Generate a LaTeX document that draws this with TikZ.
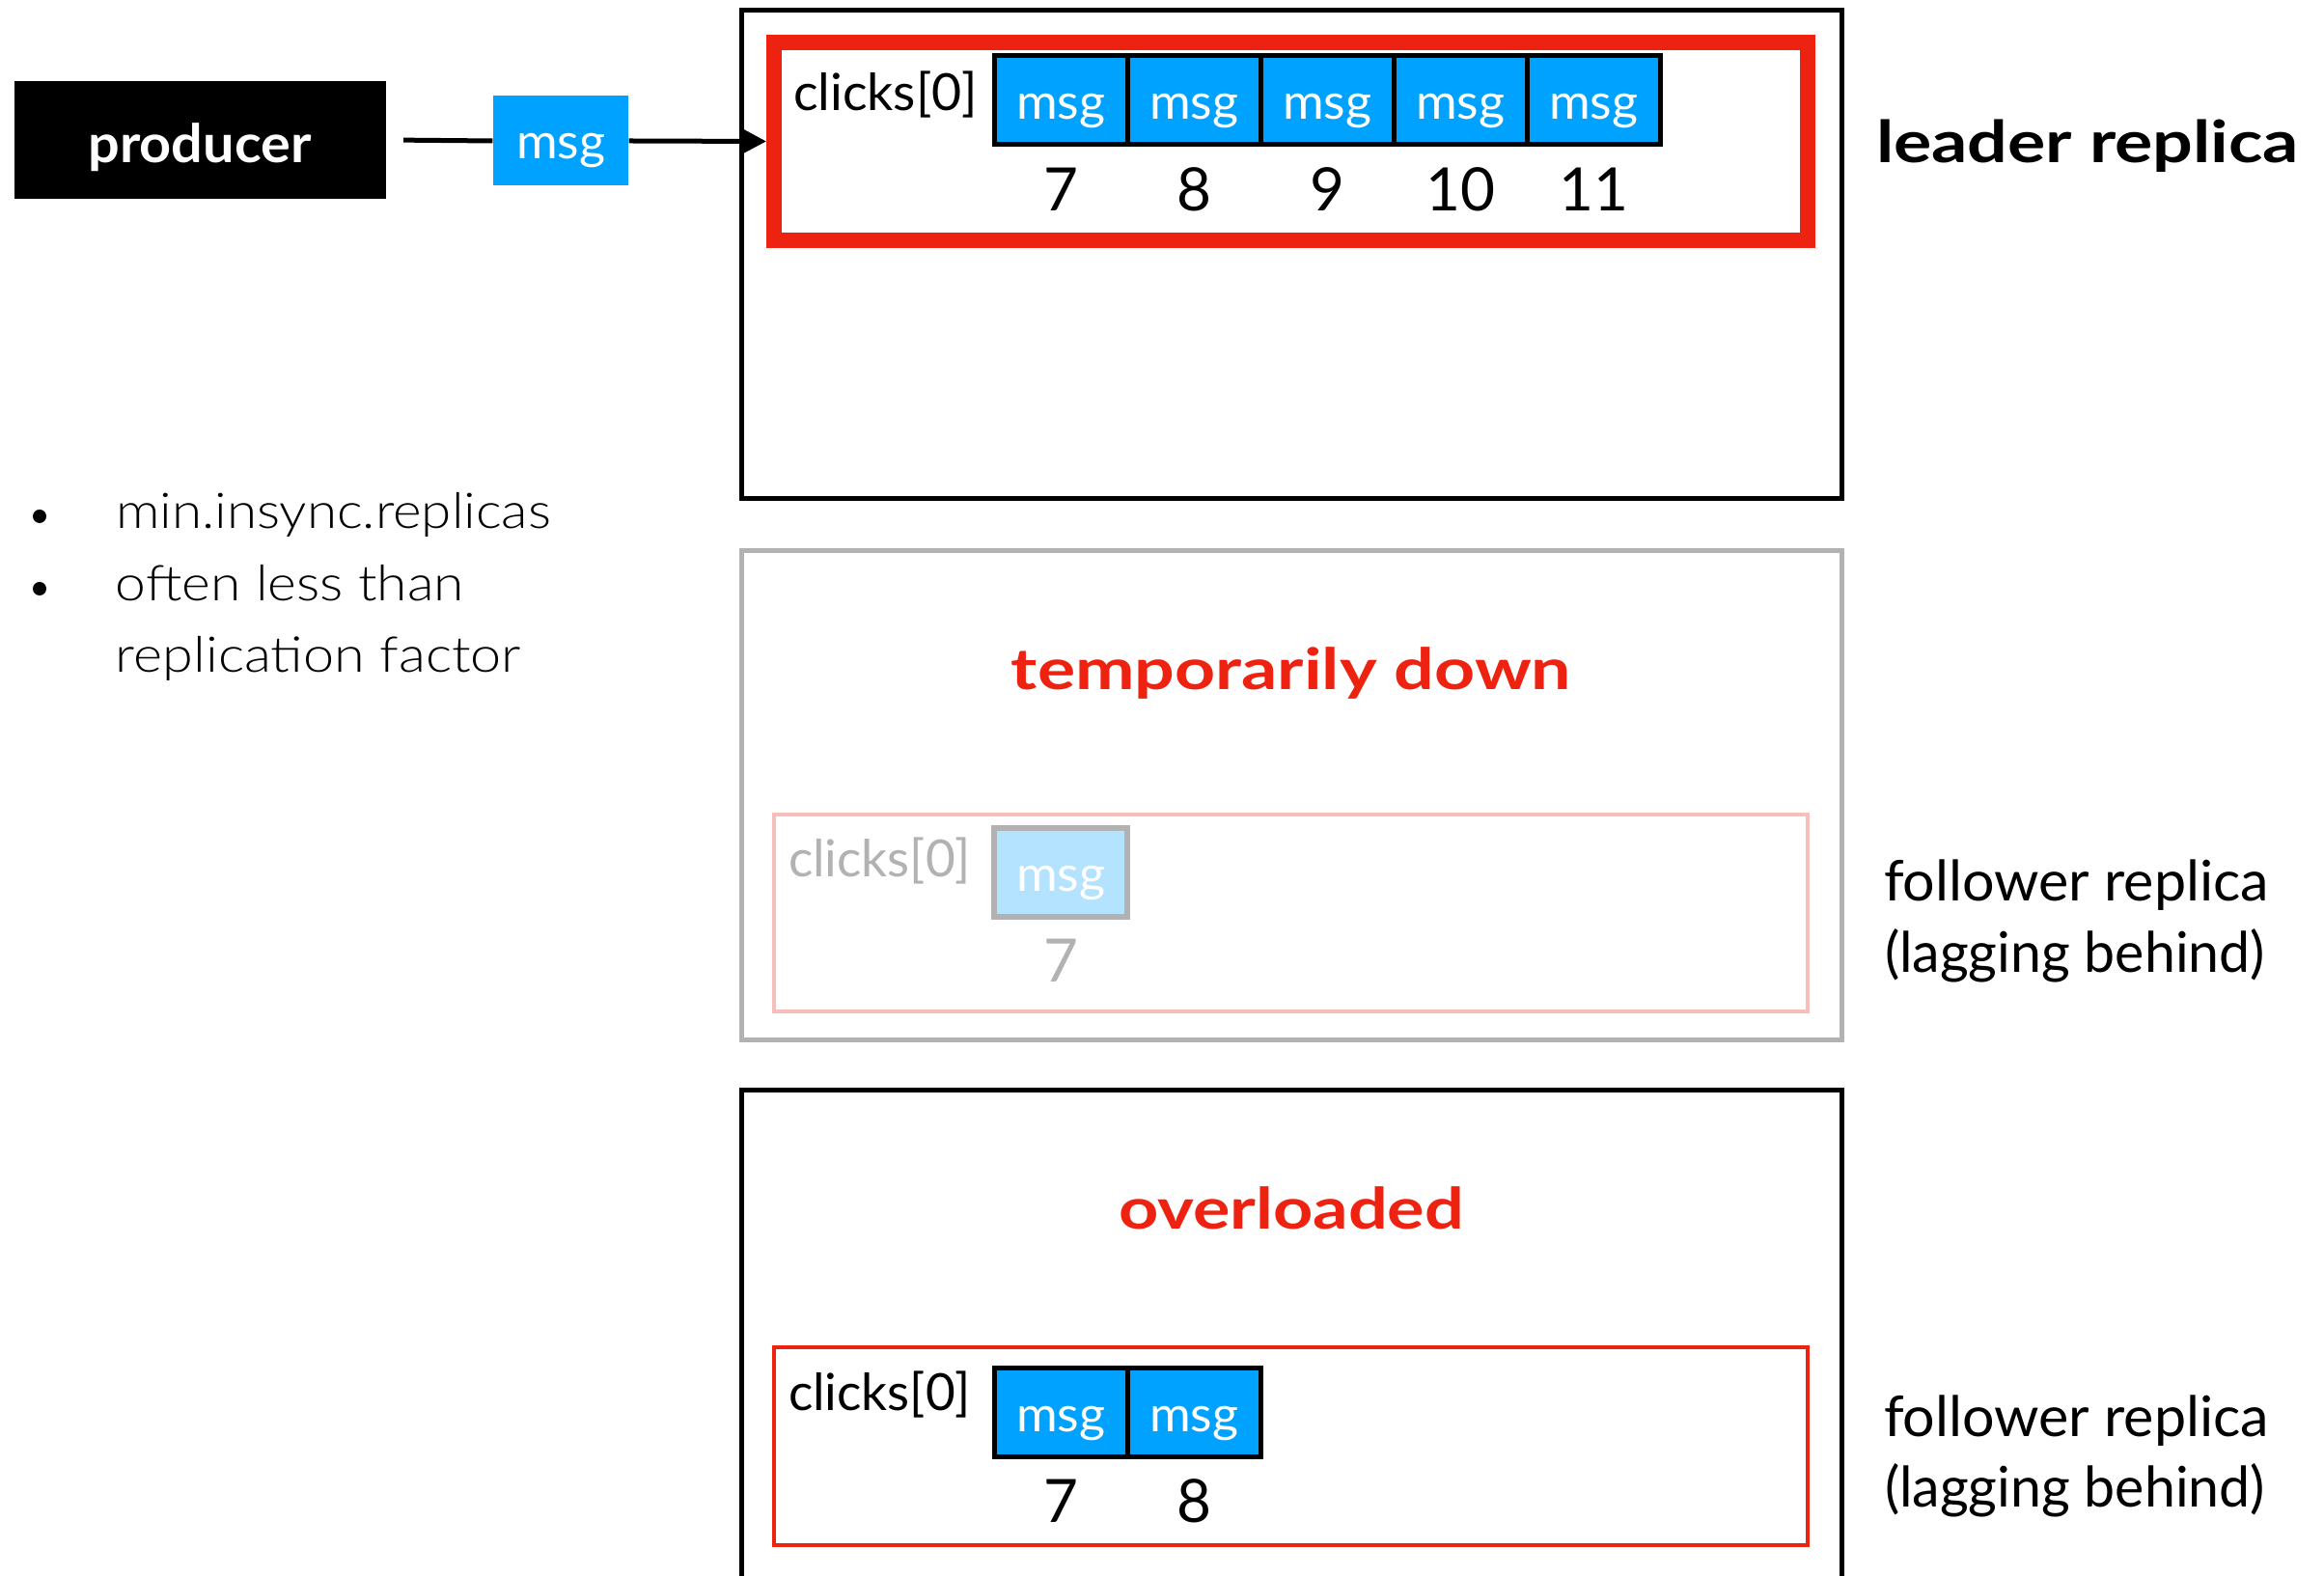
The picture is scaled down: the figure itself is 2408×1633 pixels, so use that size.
\documentclass[tikz,border=0pt]{standalone}
\usepackage{fontspec}
\usepackage{graphicx}
\setmainfont{Lato}
\newfontfamily\lightfont{Lato Light}
\usetikzlibrary{arrows.meta}
\newlength\px \setlength\px{0.3pt}
\newcommand\fsz[1]{\fontsize{#1\px}{#1\px}\selectfont}
\newcommand\fitw[2]{\resizebox{#1\px}{\height}{#2}}
\newcommand\lowered[2]{\raisebox{-#1\px}[0pt][0pt]{#2}}
\definecolor{kblue}{RGB}{0,162,255}
\definecolor{kred}{RGB}{238,34,17}
\definecolor{klight}{RGB}{179,227,255}
\definecolor{kgray}{RGB}{178,178,178}
\definecolor{kpink}{RGB}{248,190,185}
\begin{document}
\begin{tikzpicture}[x=0.3pt,y=-0.3pt,
  txt/.style={inner sep=0pt,outer sep=0pt},
  cellbox/.style={draw=black,line width=1.5pt,fill=kblue,minimum width=41.4pt,minimum height=27.6pt,inner sep=0pt,text=white,font=\fsz{51}},
  ghostcell/.style={cellbox,draw=kgray,line width=1.8pt,fill=klight},
  num/.style={txt,anchor=base,font=\fsz{62}},
  clk/.style={txt,anchor=base west,font=\fsz{53}},
  side/.style={txt,anchor=base west,font=\fsz{58}},
  title/.style={txt,anchor=base,font=\fsz{59}\bfseries,text=kred},
  bul/.style={txt,anchor=base west,font=\lightfont\fsz{51}},
  dot/.style={circle,fill=black,inner sep=0pt,minimum size=4.2pt}
]
\useasboundingbox (0,0) rectangle (2408,1633);
\fill[white] (0,0) rectangle (2408,1633);

% producer and message
\node[fill=black,minimum width=115.5pt,minimum height=36.6pt,inner sep=0pt,text=white,font=\fsz{55}\bfseries] (producer) at (207,145) {\lowered{24}{\fitw{231}{producer}}};
\node[fill=kblue,minimum width=42pt,minimum height=27.9pt,inner sep=0pt,text=white,font=\fsz{51}] (msg) at (581,146) {\lowered{19}{\fitw{92}{msg}}};

% leader replica
\draw[line width=1.5pt] (768,11) rectangle (1908,517);
\node[draw=kred,line width=4.8pt,minimum width=321.3pt,minimum height=61.5pt,inner sep=0pt] (leaderlog) at (1337.5,146.5) {};
\draw[line width=1.5pt,shorten <=5.4pt] (producer.east) -- (msg.west);
\draw[line width=1.5pt,-{Triangle[length=7.2pt,width=7.2pt]}] (msg.east) -- (leaderlog.west);
\node[clk] (clk1) at (822,115) {\fitw{191}{clicks[0]}};
\foreach \i/\n in {0/7,1/8,2/9,3/10,4/11}{
  \node[cellbox] (lc\n) at ({1099+138*\i},104) {\lowered{20}{\fitw{92}{msg}}};
  \node[num] (ln\n) at ({1099+138*\i},219) {\n};
}
\node[txt,anchor=base west,font=\fsz{60}\bfseries] (leaderlbl) at (1944,169) {\fitw{438}{leader replica}};

% temporarily down follower
\draw[kgray,line width=1.5pt] (768,571) rectangle (1908,1078);
\node[title] (downlbl) at (1338,715) {\fitw{580}{temporarily down}};
\draw[kpink,line width=1.4pt] (802,844) rectangle (1873,1048);
\node[clk,text=kgray] (clk2) at (817,909) {\fitw{189}{clicks[0]}};
\node[ghostcell] (dc7) at (1099,904) {\lowered{20}{\fitw{92}{msg}}};
\node[num,text=kgray] (dn7) at (1099,1018) {7};
\node[side] (f1a) at (1952,934) {\fitw{399}{follower replica}};
\node[side] (f1b) at (1953,1008) {\fitw{394}{(lagging behind)}};

% overloaded follower
\draw[line width=1.5pt] (768,1800) -- (768,1130) -- (1908,1130) -- (1908,1800);
\node[title] (overlbl) at (1338,1274) {\fitw{358}{overloaded}};
\draw[kred,line width=1.4pt] (802,1396) rectangle (1873,1601);
\node[clk] (clk3) at (817,1462) {\fitw{189}{clicks[0]}};
\foreach \i/\n in {0/7,1/8}{
  \node[cellbox] (oc\n) at ({1099+138*\i},1464) {\lowered{20}{\fitw{92}{msg}}};
  \node[num] (on\n) at ({1099+138*\i},1578) {\n};
}
\node[side] (f2a) at (1952,1488) {\fitw{399}{follower replica}};
\node[side] (f2b) at (1953,1561) {\fitw{394}{(lagging behind)}};

% bullet notes
\node[dot] (d1) at (41,535) {};
\node[dot] (d2) at (41,610) {};
\node[bul] (b1) at (120,548) {\fitw{451}{min.insync.replicas}};
\node[bul] (b2) at (120,623) {\fitw{361}{often less than}};
\node[bul] (b3) at (120,697) {\fitw{420}{replication factor}};
\end{tikzpicture}
\end{document}
